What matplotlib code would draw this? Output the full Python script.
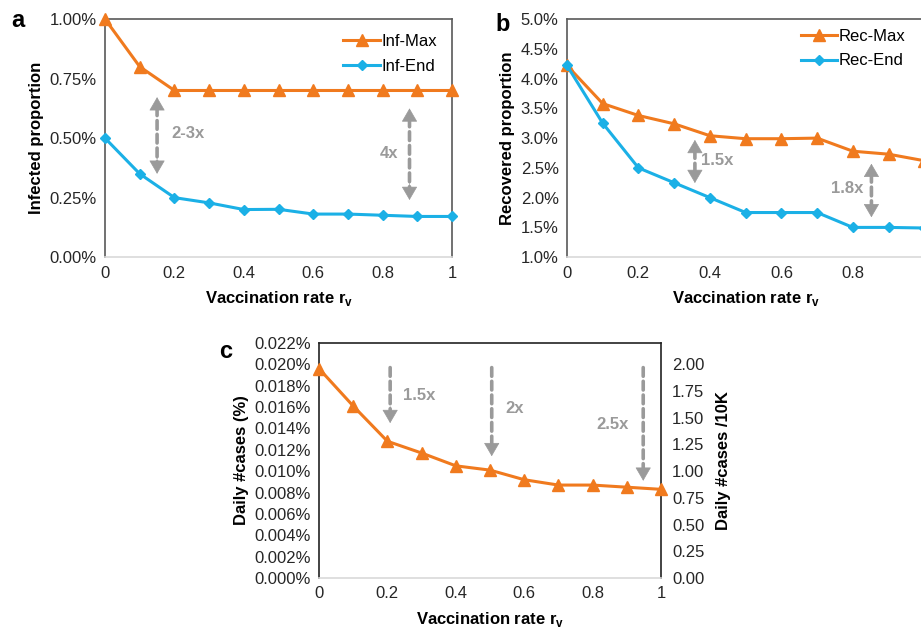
import matplotlib
matplotlib.use("Agg")
import matplotlib.pyplot as plt
import numpy as np

plt.rcParams['font.family'] = ['Liberation Sans', 'DejaVu Sans']
plt.rcParams['mathtext.fontset'] = 'custom'
plt.rcParams['mathtext.rm'] = 'Liberation Sans'
plt.rcParams['mathtext.bf'] = 'Liberation Sans:bold'

# ---------------- data ----------------
rv = [0, 0.1, 0.2, 0.3, 0.4, 0.5, 0.6, 0.7, 0.8, 0.9, 1.0]

inf_max = [1.00, 0.80, 0.70, 0.70, 0.70, 0.70, 0.70, 0.70, 0.70, 0.70, 0.70]
inf_end = [0.50, 0.35, 0.25, 0.228, 0.200, 0.201, 0.181, 0.181, 0.176, 0.171, 0.171]

rec_max = [4.22, 3.58, 3.38, 3.24, 3.04, 2.99, 2.99, 3.00, 2.78, 2.73, 2.62]
rec_end = [4.22, 3.25, 2.50, 2.25, 2.00, 1.75, 1.75, 1.75, 1.50, 1.50, 1.49]

daily_pct = [0.0196, 0.0161, 0.0128, 0.0117, 0.0105, 0.0101, 0.0092, 0.0087, 0.0087, 0.0085, 0.0083]

# annotations: (x, y_top, y_bottom, label, label_x, label_y, ha)
ann_a = [(0.15, 0.672, 0.35, "2-3x", 0.19, 0.52, 'left'),
         (0.877, 0.625, 0.24, "4x", 0.845, 0.435, 'right')]
ann_b = [(0.358, 2.97, 2.245, "1.5x", 0.375, 2.63, 'left'),
         (0.852, 2.57, 1.67, "1.8x", 0.83, 2.15, 'right')]
ann_c = [(0.208, 0.0197, 0.0145, "1.5x", 0.245, 0.0171, 'left'),
         (0.505, 0.0197, 0.0114, "2x", 0.545, 0.0159, 'left'),
         (0.948, 0.0197, 0.0091, "2.5x", 0.905, 0.0144, 'right')]

ORANGE = '#F07A1E'
BLUE = '#1BB0E6'
GRAY = '#9a9a9a'
SPINE = '#595959'
FS = 12
HEAD = '-|>,head_length=0.55,head_width=0.32'

fig = plt.figure(figsize=(9.21, 6.35), dpi=100)

def style(ax, spine_col=SPINE):
    for s in ['left', 'top', 'right']:
        ax.spines[s].set_color(spine_col)
        ax.spines[s].set_linewidth(1.2)
    ax.spines['bottom'].set_color('#d9d9d9')
    ax.spines['bottom'].set_linewidth(1.2)
    ax.tick_params(length=0, labelsize=FS, colors='#262626', pad=6)
    ax.set_xlim(0, 1)
    ax.set_xticks([0, 0.2, 0.4, 0.6, 0.8, 1.0])
    ax.set_xticklabels(["0", "0.2", "0.4", "0.6", "0.8", "1"])
    ax.set_xlabel(r"Vaccination rate r$_\mathbf{v}$", fontsize=FS, fontweight='bold', labelpad=6)

def arrows(ax, anns, both=True):
    for (x, yt, yb, lab, lx, ly, ha) in anns:
        # dashed shaft
        ax.annotate('', xy=(x, yb), xytext=(x, yt),
                    arrowprops=dict(arrowstyle='-', color=GRAY, lw=2.6,
                                    linestyle=(0, (2.4, 1.4)),
                                    shrinkA=7 if both else 0, shrinkB=7))
        # heads
        ax.annotate('', xy=(x, yb), xytext=(0, 12), textcoords='offset points',
                    arrowprops=dict(arrowstyle=HEAD, color=GRAY, lw=0.5,
                                    mutation_scale=16, shrinkA=0, shrinkB=0))
        if both:
            ax.annotate('', xy=(x, yt), xytext=(0, -12), textcoords='offset points',
                        arrowprops=dict(arrowstyle=HEAD, color=GRAY, lw=0.5,
                                        mutation_scale=16, shrinkA=0, shrinkB=0))
        ax.text(lx, ly, lab, color=GRAY, fontsize=FS, fontweight='bold', ha=ha, va='center')

# ---------- panel a ----------
axa = fig.add_axes([0.114, 0.595, 0.377, 0.375])
axa.plot(rv, inf_max, color=ORANGE, lw=2.2, marker='^', ms=8, label='Inf-Max', clip_on=False, zorder=3)
axa.plot(rv, inf_end, color=BLUE, lw=2.2, marker='D', ms=5.5, label='Inf-End', clip_on=False, zorder=3)
style(axa)
axa.set_ylim(0, 1.0)
axa.set_yticks([0, 0.25, 0.5, 0.75, 1.0])
axa.set_yticklabels(["0.00%", "0.25%", "0.50%", "0.75%", "1.00%"])
axa.set_ylabel("Infected proportion", fontsize=FS, fontweight='bold', labelpad=4)
arrows(axa, ann_a)
axa.legend(loc='upper right', frameon=False, fontsize=FS, handlelength=2.2,
           handletextpad=0.1, bbox_to_anchor=(1.0, 1.0), labelspacing=0.6)
fig.text(0.012, 0.968, "a", fontsize=17, fontweight='bold', va='center')

# ---------- panel b ----------
axb = fig.add_axes([0.6156, 0.595, 0.388, 0.375])
axb.plot(rv, rec_max, color=ORANGE, lw=2.2, marker='^', ms=8, label='Rec-Max', clip_on=False, zorder=3)
axb.plot(rv, rec_end, color=BLUE, lw=2.2, marker='D', ms=5.5, label='Rec-End', clip_on=False, zorder=3)
style(axb)
axb.set_ylim(1.0, 5.0)
axb.set_yticks(np.arange(1.0, 5.01, 0.5))
axb.set_yticklabels(["%.1f%%" % v for v in np.arange(1.0, 5.01, 0.5)])
axb.set_ylabel("Recovered proportion", fontsize=FS, fontweight='bold', labelpad=4)
arrows(axb, ann_b)
axb.legend(loc='upper right', frameon=False, fontsize=FS, handlelength=2.2,
           handletextpad=0.1, bbox_to_anchor=(0.99, 1.02), labelspacing=0.55)
fig.text(0.538, 0.962, "b", fontsize=17, fontweight='bold', va='center')

# ---------- panel c ----------
axc = fig.add_axes([0.3464, 0.0898, 0.3713, 0.37])
axc.plot(rv, daily_pct, color=ORANGE, lw=2.2, marker='^', ms=8, clip_on=False, zorder=3)
style(axc, spine_col='#222222')
axc.set_ylim(0, 0.022)
yt = np.arange(0, 0.0221, 0.002)
axc.set_yticks(yt)
axc.set_yticklabels(["%.3f%%" % v for v in yt])
axc.set_ylabel("Daily #cases (%)", fontsize=FS, fontweight='bold', labelpad=4)
arrows(axc, ann_c, both=False)
axc2 = axc.twinx()
axc2.set_ylim(0, 2.2)
axc2.set_yticks(np.arange(0, 2.01, 0.25))
axc2.set_yticklabels(["%.2f" % v for v in np.arange(0, 2.01, 0.25)])
axc2.tick_params(length=0, labelsize=FS, colors='#262626', pad=8)
for s in axc2.spines.values():
    s.set_visible(False)
axc2.set_ylabel("Daily #cases /10K", fontsize=FS, fontweight='bold', labelpad=8)
fig.text(0.238, 0.447, "c", fontsize=17, fontweight='bold', va='center')

fig.savefig("out.png", dpi=100)
